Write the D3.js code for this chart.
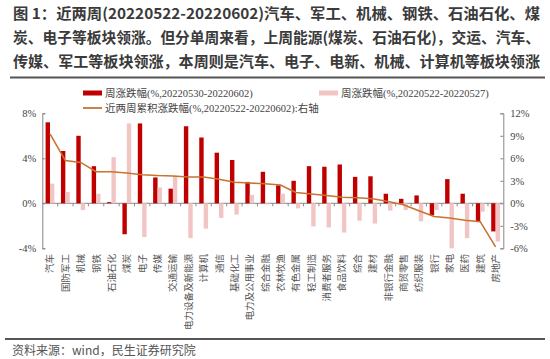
<!DOCTYPE html>
<html><head><meta charset="utf-8">
<script src="https://cdn.jsdelivr.net/npm/d3@7"></script>
<style>
body{margin:0;background:#fff;}
svg{display:block;}
</style></head>
<body>
<svg id="c" width="550" height="359"></svg>
<script>
const categories = ["汽车","国防军工","机械","钢铁","石油石化","煤炭","电子","传媒","交通运输","电力设备及新能源","计算机","通信","基础化工","电力及公用事业","综合金融","农林牧渔","有色金属","轻工制造","消费者服务","食品饮料","综合","建材","非银行金融","商贸零售","纺织服装","银行","家电","医药","建筑","房地产"];
const thisWeek = [7.2,4.65,6.0,3.3,0.1,-2.75,7.1,2.3,1.3,6.85,5.85,4.5,3.85,1.9,2.8,1.6,2.0,3.3,3.25,3.45,2.35,2.4,0.85,0.4,0.7,-1.05,2.15,0.85,-1.6,-2.5];
const lastWeek = [1.75,1.0,-0.6,0.85,4.1,7.1,-3.0,1.4,2.45,-3.1,-2.25,-1.3,-1.0,0.75,-0.1,0.85,-0.45,-2.05,-2.15,-2.6,-1.55,-1.8,-0.65,-0.6,-1.6,-0.6,-4.0,-3.1,-0.75,-3.4];
const cumulative = [9.25,5.7,5.45,4.2,4.2,4.05,3.8,3.7,3.65,3.5,3.5,3.2,2.8,2.7,2.6,2.45,1.45,1.25,1.05,0.8,0.75,0.6,0.25,-0.2,-1.0,-1.75,-1.95,-2.25,-2.45,-5.8];
const leftTicks = [-4,0,4,8];
const rightTicks = [-6,-3,0,3,6,9,12];
const titleLines = ["图 1：近两周(20220522-20220602)汽车、军工、机械、钢铁、石油石化、煤","炭、电子等板块领涨。但分单周来看，上周能源(煤炭、石油石化)，交运、汽车、","传媒、军工等板块领涨，本周则是汽车、电子、电新、机械、计算机等板块领涨"];
const legendLabels = ["周涨跌幅(%,20220530-20220602)","周涨跌幅(%,20220522-20220527)","近两周累积涨跌幅(%,20220522-20220602):右轴"];
const sourceText = "资料来源：wind，民生证券研究院";

const RED="#C00000", PINK="#F2C5C5", LINE="#C8732F";
const svg = d3.select("#c");
const serif = "'Liberation Serif','Times New Roman','Noto Sans CJK SC',serif";
const sans = "'Noto Sans CJK SC','Noto Sans',sans-serif";

// title
svg.append("g").selectAll("text").data(titleLines).join("text")
  .attr("x",13).attr("y",(d,i)=>19+i*24)
  .attr("font-family",sans).attr("font-weight","bold").attr("font-size",15)
  .attr("fill","#3a3a3a").attr("textLength",527).attr("lengthAdjust","spacingAndGlyphs")
  .text(d=>d);
svg.append("line").attr("x1",10).attr("x2",545).attr("y1",77.5).attr("y2",77.5).attr("stroke","#555").attr("stroke-width",2);
svg.append("line").attr("x1",5).attr("x2",545).attr("y1",339).attr("y2",339).attr("stroke","#555").attr("stroke-width",2);
svg.append("text").attr("x",12).attr("y",355).attr("font-family",sans).attr("font-size",12).attr("fill","#555").text(sourceText);

const x = d3.scaleBand().domain(categories).range([42.3,503.3]);
const yL = d3.scaleLinear().domain([-4,8]).range([248.3,113.3]);
const yR = d3.scaleLinear().domain([-6,12]).range([248.3,113.3]);
const bw = 4.4;

// zero line and category ticks
svg.append("line").attr("x1",x.range()[0]).attr("x2",x.range()[1]).attr("y1",yL(0)).attr("y2",yL(0)).attr("stroke","#888").attr("stroke-width",1);
svg.append("g").selectAll("line").data(categories.slice(1)).join("line")
  .attr("x1",d=>x(d)).attr("x2",d=>x(d)).attr("y1",yL(0)).attr("y2",yL(0)+3).attr("stroke","#888");

// bars
svg.append("g").selectAll("rect").data(categories).join("rect")
  .attr("x",d=>x(d)+x.bandwidth()/2-bw).attr("width",bw)
  .attr("y",(d,i)=>yL(Math.max(0,thisWeek[i]))).attr("height",(d,i)=>Math.abs(yL(thisWeek[i])-yL(0)))
  .attr("fill",RED);
svg.append("g").selectAll("rect").data(categories).join("rect")
  .attr("x",d=>x(d)+x.bandwidth()/2).attr("width",bw)
  .attr("y",(d,i)=>yL(Math.max(0,lastWeek[i]))).attr("height",(d,i)=>Math.abs(yL(lastWeek[i])-yL(0)))
  .attr("fill",PINK);

// line
const line = d3.line().x((d,i)=>x(categories[i])+x.bandwidth()/2).y(d=>yR(d));
svg.append("path").datum(cumulative).attr("d",line).attr("fill","none").attr("stroke",LINE).attr("stroke-width",1.6);

// axes
const axL = svg.append("g").attr("transform","translate(42.3,0)")
  .call(d3.axisLeft(yL).tickValues(leftTicks).tickFormat(d=>d+"%").tickSize(-3).tickSizeOuter(-3).tickPadding(6));
const axR = svg.append("g").attr("transform","translate(503.3,0)")
  .call(d3.axisRight(yR).tickValues(rightTicks).tickFormat(d=>d+"%").tickSize(-3).tickSizeOuter(-3).tickPadding(7));
[axL,axR].forEach(a=>{
  a.select(".domain").attr("stroke","#888");
  a.selectAll(".tick line").attr("stroke","#888");
  a.selectAll("text").attr("font-family",serif).attr("font-size",10.5).attr("fill","#444");
});

// x labels
svg.append("g").selectAll("text").data(categories).join("text")
  .attr("transform",d=>`translate(${x(d)+x.bandwidth()/2+3.5},254) rotate(-90)`)
  .attr("text-anchor","end").attr("font-family",serif).attr("font-size",9.5).attr("fill","#555")
  .text(d=>d);

// legend
const lg = svg.append("g").attr("font-family",serif).attr("font-size",10.5).attr("fill","#444");
lg.append("rect").attr("x",83).attr("y",90.5).attr("width",19).attr("height",5).attr("fill",RED);
lg.append("text").attr("x",105).attr("y",97).text(legendLabels[0]);
lg.append("rect").attr("x",319).attr("y",90.5).attr("width",19).attr("height",5).attr("fill",PINK);
lg.append("text").attr("x",341).attr("y",97).text(legendLabels[1]);
lg.append("line").attr("x1",83).attr("x2",102).attr("y1",108).attr("y2",108).attr("stroke",LINE).attr("stroke-width",1.8);
lg.append("text").attr("x",105).attr("y",112).text(legendLabels[2]);
</script>
</body></html>
